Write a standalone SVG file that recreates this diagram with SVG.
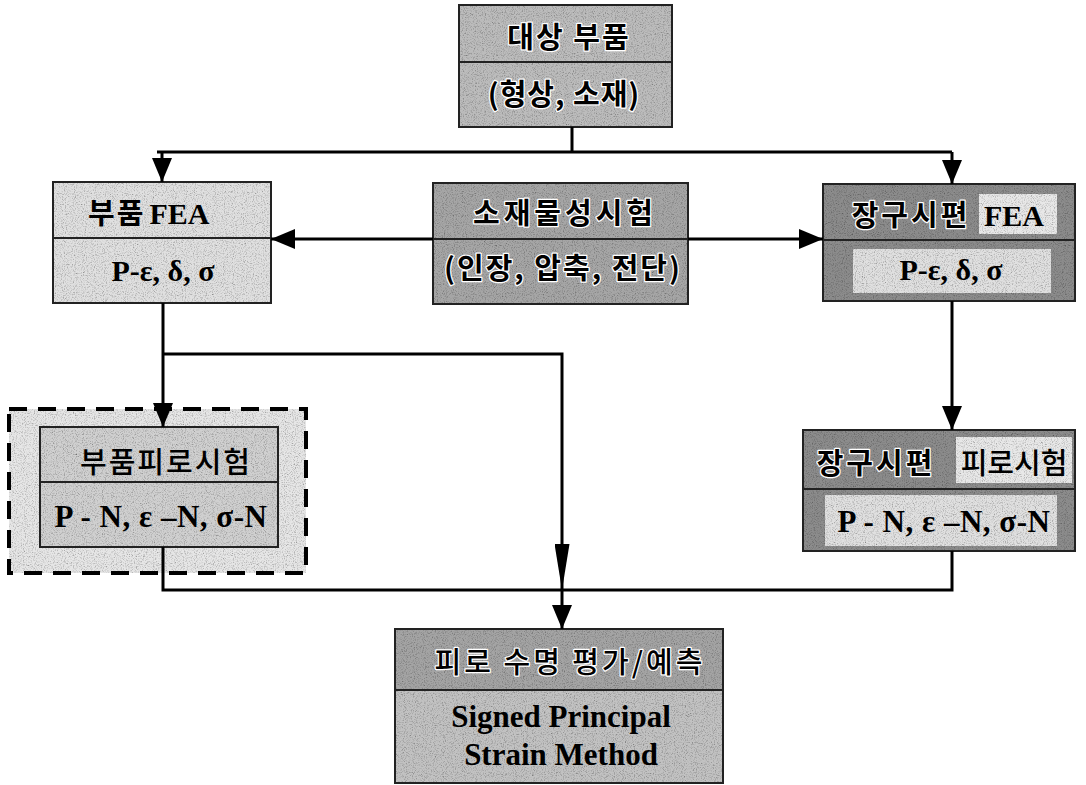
<svg xmlns="http://www.w3.org/2000/svg" width="1086" height="785" viewBox="0 0 1086 785">
  <defs>
    <!-- speckled print texture for box fills -->
    <filter id="grain" x="0" y="0" width="100%" height="100%">
      <feTurbulence type="fractalNoise" baseFrequency="0.9" numOctaves="2" seed="7" result="n"/>
      <feColorMatrix in="n" type="saturate" values="0" result="g"/>
      <feComponentTransfer in="g" result="g2">
        <feFuncR type="linear" slope="1.9" intercept="0.0"/>
        <feFuncG type="linear" slope="1.9" intercept="0.0"/>
        <feFuncB type="linear" slope="1.9" intercept="0.0"/>
        <feFuncA type="linear" slope="0" intercept="1"/>
      </feComponentTransfer>
      <feBlend in="SourceGraphic" in2="g2" mode="multiply" result="b"/>
      <feComposite in="b" in2="SourceGraphic" operator="in"/>
    </filter>
    <marker id="arr" viewBox="0 0 24 20" refX="24" refY="10" markerWidth="24" markerHeight="20" markerUnits="userSpaceOnUse" orient="auto">
      <path d="M0,0 L24,10 L0,20 Z" fill="#000"/>
    </marker>
    <marker id="arrThin" viewBox="0 0 46 15" refX="46" refY="7.5" markerWidth="46" markerHeight="15" markerUnits="userSpaceOnUse" orient="auto">
      <path d="M0,0 L46,7.5 L0,15 Z" fill="#000"/>
    </marker>
  </defs>
  <style>
    .fill { filter: url(#grain); stroke: none; }
    .frame { fill: none; stroke: #222; stroke-width: 2; }
    .div { stroke: #222; stroke-width: 2; }
    .kr { font-family: "Noto Sans CJK KR", "Noto Sans", sans-serif; font-weight: 700; font-size: 29px; fill: #000; text-anchor: middle; letter-spacing: 2px; }
    .kr-halo { stroke: #fff; stroke-width: 2.5px; paint-order: stroke; stroke-linejoin: round; }
    .lat { font-family: "Liberation Serif", "Times New Roman", serif; font-weight: 700; font-size: 30px; fill: #000; text-anchor: middle; }
    .pn { font-size: 31px; letter-spacing: 0.5px; }
    .spm { font-size: 31px; }
    .wire { fill: none; stroke: #000; stroke-width: 3; }
  </style>

  <!-- target component -->
  <g id="node-target">
    <rect class="fill" x="459" y="5" width="213" height="122" fill="#bcbcbc"/>
    <rect class="frame" x="459" y="5" width="213" height="122"/>
    <line class="div" x1="459" y1="62" x2="672" y2="62"/>
    <text class="kr kr-halo" x="569" y="48">대상 부품</text>
    <text class="kr kr-halo" x="564" y="105" style="letter-spacing:1px">(형상, 소재)</text>
  </g>

  <!-- component FEA -->
  <g id="node-part-fea">
    <rect class="fill" x="53" y="182" width="218" height="121" fill="#e0e0e0"/>
    <rect class="frame" x="53" y="182" width="218" height="121"/>
    <line class="div" x1="53" y1="238" x2="271" y2="238"/>
    <text x="88" y="224"><tspan class="kr" style="text-anchor:start">부품</tspan><tspan class="lat" style="text-anchor:start" dx="4">FEA</tspan></text>
    <text class="lat" x="163" y="281">P-ε, δ, σ</text>
  </g>

  <!-- material property tests -->
  <g id="node-material">
    <rect class="fill" x="433" y="183" width="255" height="121" fill="#a6a6a6"/>
    <rect class="frame" x="433" y="183" width="255" height="121"/>
    <line class="div" x1="433" y1="239" x2="688" y2="239"/>
    <text class="kr kr-halo" x="565" y="224" style="letter-spacing:4px">소재물성시험</text>
    <text class="kr kr-halo" x="563" y="279">(인장, 압축, 전단)</text>
  </g>

  <!-- specimen FEA -->
  <g id="node-specimen-fea">
    <rect class="fill" x="823" y="184" width="252" height="117" fill="#8c8c8c"/>
    <rect class="fill" x="979" y="194" width="78" height="40" fill="#e8e8e8"/>
    <rect class="fill" x="853" y="249" width="198" height="44" fill="#e0e0e0"/>
    <rect class="frame" x="823" y="184" width="252" height="117"/>
    <line class="div" x1="823" y1="240" x2="1075" y2="240"/>
    <text class="kr kr-halo" x="911" y="226" style="letter-spacing:3px">장구시편</text>
    <text class="lat" x="1014" y="226">FEA</text>
    <text class="lat" x="951" y="280">P-ε, δ, σ</text>
  </g>

  <!-- component fatigue test (dashed enclosure) -->
  <g id="node-part-fatigue">
    <rect class="fill" x="9" y="409" width="297" height="164" fill="#e6e6e6"/>
    <rect x="9" y="409" width="297" height="164" fill="none" stroke="#000" stroke-width="4" stroke-dasharray="18 11"/>
    <rect class="fill" x="40" y="427" width="238" height="120" fill="#d0d0d0"/>
    <rect class="frame" x="40" y="427" width="238" height="120"/>
    <line class="div" x1="40" y1="482" x2="278" y2="482"/>
    <text class="kr" x="166" y="473" style="font-weight:500">부품피로시험</text>
    <text class="lat pn" x="161" y="527">P - N, ε –N, σ-N</text>
  </g>

  <!-- specimen fatigue test -->
  <g id="node-specimen-fatigue">
    <rect class="fill" x="803" y="430" width="272" height="121" fill="#8c8c8c"/>
    <rect class="fill" x="956" y="437" width="116" height="46" fill="#e8e8e8"/>
    <rect class="fill" x="825" y="495" width="232" height="51" fill="#e0e0e0"/>
    <rect class="frame" x="803" y="430" width="272" height="121"/>
    <line class="div" x1="803" y1="489" x2="1075" y2="489"/>
    <text class="kr kr-halo" x="876" y="474" style="letter-spacing:3px">장구시편</text>
    <text class="kr" x="1014" y="474" style="font-weight:500;letter-spacing:0">피로시험</text>
    <text class="lat pn" x="944" y="532">P - N, ε –N, σ-N</text>
  </g>

  <!-- fatigue life evaluation -->
  <g id="node-life">
    <rect class="fill" x="395" y="629" width="328" height="154" fill="#a4a4a4"/>
    <rect class="fill" x="395" y="690" width="328" height="93" fill="#c2c2c2"/>
    <rect class="frame" x="395" y="629" width="328" height="154"/>
    <line class="div" x1="395" y1="690" x2="723" y2="690"/>
    <text class="kr kr-halo" x="570" y="673" style="font-weight:500;letter-spacing:3px">피로 수명 평가/예측</text>
    <text class="lat spm" x="561" y="727">Signed Principal</text>
    <text class="lat spm" x="561" y="765">Strain Method</text>
  </g>

  <!-- connectors -->
  <g id="connectors">
    <path class="wire" d="M572,127 V152"/>
    <path class="wire" d="M157,152 H952"/>
    <path class="wire" d="M162,152 V182" marker-end="url(#arr)"/>
    <path class="wire" d="M952,152 V184" marker-end="url(#arr)"/>
    <path class="wire" d="M433,239 H271" marker-end="url(#arr)"/>
    <path class="wire" d="M688,239 H823" marker-end="url(#arr)"/>
    <path class="wire" d="M163,303 V427" marker-end="url(#arr)"/>
    <path class="wire" d="M163,354 H562 V590" marker-end="url(#arrThin)"/>
    <path class="wire" d="M952,301 V430" marker-end="url(#arr)"/>
    <path class="wire" d="M163,547 V590 H952 V551"/>
    <path class="wire" d="M562,590 V629" marker-end="url(#arr)"/>
  </g>
</svg>
